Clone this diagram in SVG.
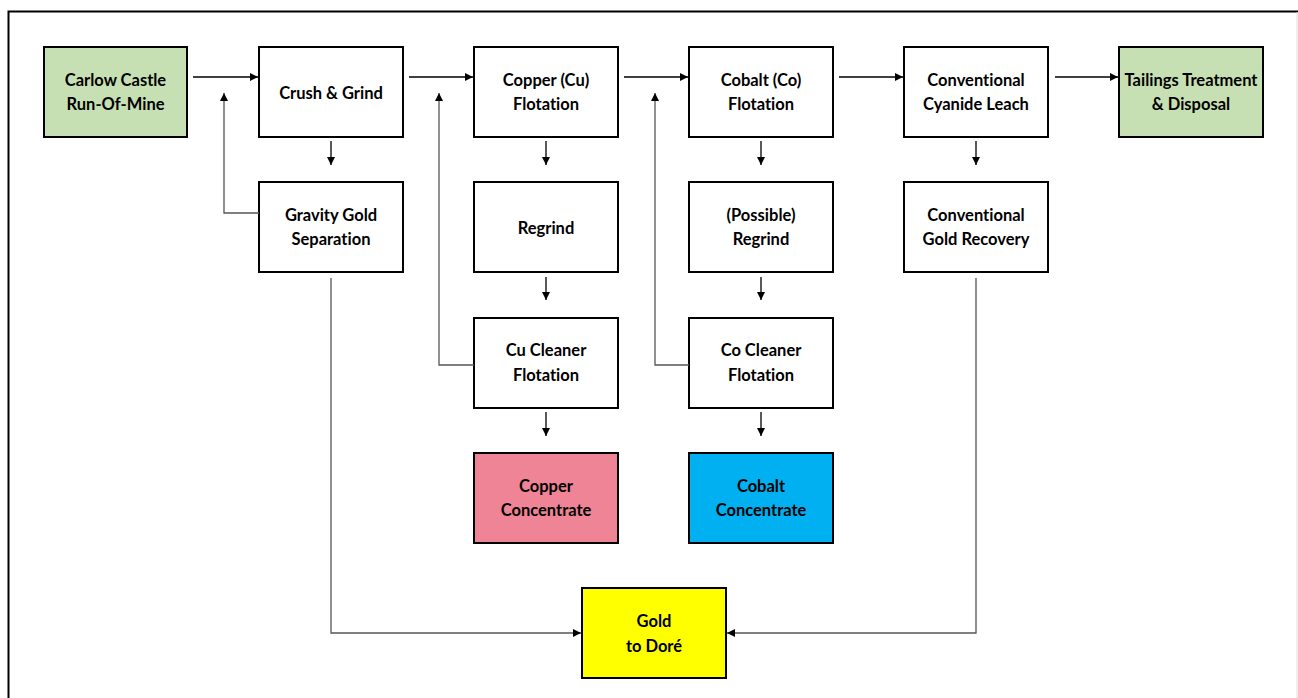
<svg xmlns="http://www.w3.org/2000/svg" width="1298" height="698" viewBox="0 0 1298 698">
<defs>
<marker id="ah" viewBox="0 0 10 10" refX="10" refY="5" markerWidth="8" markerHeight="8" markerUnits="userSpaceOnUse" orient="auto">
<path d="M0,0 L10,5 L0,10 Z" fill="#000"/>
</marker>
<style>
.box{stroke:#000;stroke-width:2}
.t{font-family:Lato,"Liberation Sans",sans-serif;font-weight:bold;font-size:16.5px;fill:#000;text-anchor:middle;font-variant-ligatures:none}
.c{fill:none;stroke:#000;stroke-width:1.3}
.g{fill:none;stroke:#555;stroke-width:1.3}
</style>
</defs>
<rect width="1298" height="698" fill="#fff"/>
<path d="M8.5,698 V11.5 H1298" fill="none" stroke="#000" stroke-width="2"/>
<line x1="1297" y1="12" x2="1297" y2="698" stroke="#ddd" stroke-width="1"/>

<g id="n-carlow"><rect class="box" x="44" y="47" width="143" height="90" fill="#c6e0b4"/><text class="t" x="115.5" y="86">Carlow Castle</text><text class="t" x="115.5" y="110">Run-Of-Mine</text></g>
<g id="n-crush"><rect class="box" x="259" y="47" width="144" height="90" fill="#fff"/><text class="t" x="331" y="99">Crush &amp; Grind</text></g>
<g id="n-gravity"><rect class="box" x="259" y="182" width="144" height="90" fill="#fff"/><text class="t" x="331" y="221">Gravity Gold</text><text class="t" x="331" y="245">Separation</text></g>
<g id="n-cuflot"><rect class="box" x="474" y="47" width="144" height="90" fill="#fff"/><text class="t" x="546" y="86">Copper (Cu)</text><text class="t" x="546" y="110">Flotation</text></g>
<g id="n-regrind"><rect class="box" x="474" y="182" width="144" height="90" fill="#fff"/><text class="t" x="546" y="234">Regrind</text></g>
<g id="n-cucleaner"><rect class="box" x="474" y="318" width="144" height="90" fill="#fff"/><text class="t" x="546" y="356">Cu Cleaner</text><text class="t" x="546" y="381">Flotation</text></g>
<g id="n-cuconc"><rect class="box" x="474" y="453" width="144" height="90" fill="#ee8496"/><text class="t" x="546" y="492">Copper</text><text class="t" x="546" y="516">Concentrate</text></g>
<g id="n-coflot"><rect class="box" x="689" y="47" width="144" height="90" fill="#fff"/><text class="t" x="761" y="86">Cobalt (Co)</text><text class="t" x="761" y="110">Flotation</text></g>
<g id="n-coregrind"><rect class="box" x="689" y="182" width="144" height="90" fill="#fff"/><text class="t" x="761" y="221">(Possible)</text><text class="t" x="761" y="245">Regrind</text></g>
<g id="n-cocleaner"><rect class="box" x="689" y="318" width="144" height="90" fill="#fff"/><text class="t" x="761" y="356">Co Cleaner</text><text class="t" x="761" y="381">Flotation</text></g>
<g id="n-coconc"><rect class="box" x="689" y="453" width="144" height="90" fill="#00b0f0"/><text class="t" x="761" y="492">Cobalt</text><text class="t" x="761" y="516">Concentrate</text></g>
<g id="n-leach"><rect class="box" x="904" y="47" width="144" height="90" fill="#fff"/><text class="t" x="976" y="86">Conventional</text><text class="t" x="976" y="110">Cyanide Leach</text></g>
<g id="n-goldrec"><rect class="box" x="904" y="182" width="144" height="90" fill="#fff"/><text class="t" x="976" y="221">Conventional</text><text class="t" x="976" y="245">Gold Recovery</text></g>
<g id="n-tailings"><rect class="box" x="1119" y="47" width="144" height="90" fill="#c6e0b4"/><text class="t" x="1191" y="86">Tailings Treatment</text><text class="t" x="1191" y="110">&amp; Disposal</text></g>
<g id="n-gold"><rect class="box" x="582" y="588" width="144" height="90" fill="#ffff00"/><text class="t" x="654" y="627">Gold</text><text class="t" x="654" y="652">to Doré</text></g>

<g id="connectors">
<line class="c" x1="193" y1="77" x2="258" y2="77" marker-end="url(#ah)"/>
<line class="c" x1="409" y1="77" x2="473" y2="77" marker-end="url(#ah)"/>
<line class="c" x1="624" y1="77" x2="688" y2="77" marker-end="url(#ah)"/>
<line class="c" x1="839" y1="77" x2="903" y2="77" marker-end="url(#ah)"/>
<line class="c" x1="1055" y1="77" x2="1118" y2="77" marker-end="url(#ah)"/>
<line class="c" x1="331" y1="141" x2="331" y2="165" marker-end="url(#ah)"/>
<line class="c" x1="546" y1="141" x2="546" y2="165" marker-end="url(#ah)"/>
<line class="c" x1="761" y1="141" x2="761" y2="165" marker-end="url(#ah)"/>
<line class="c" x1="976" y1="141" x2="976" y2="165" marker-end="url(#ah)"/>
<line class="c" x1="546" y1="277" x2="546" y2="300" marker-end="url(#ah)"/>
<line class="c" x1="761" y1="277" x2="761" y2="300" marker-end="url(#ah)"/>
<line class="c" x1="546" y1="412" x2="546" y2="436" marker-end="url(#ah)"/>
<line class="c" x1="761" y1="412" x2="761" y2="436" marker-end="url(#ah)"/>
<path class="g" d="M259,213 H224 V93" marker-end="url(#ah)"/>
<path class="g" d="M474,365 H439 V93" marker-end="url(#ah)"/>
<path class="g" d="M689,365 H655 V93" marker-end="url(#ah)"/>
<path class="g" d="M331,278 V633 H581" marker-end="url(#ah)"/>
<path class="g" d="M976,278 V633 H727" marker-end="url(#ah)"/>
</g>
</svg>
